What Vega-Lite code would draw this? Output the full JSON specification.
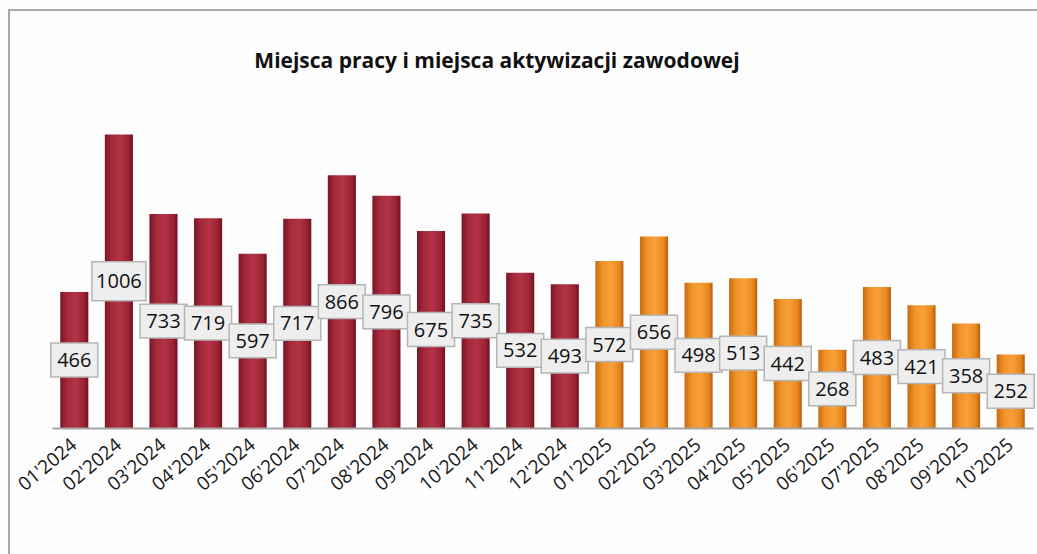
{
  "$schema": "https://vega.github.io/schema/vega-lite/v6.json",
  "autosize": "none",
  "width": 1100,
  "height": 600,
  "padding": {"left": 9, "top": 10, "right": 0, "bottom": 0},
  "background": "#fdfdfd",
  "config": {
    "view": {"stroke": "#a8a8a8", "strokeWidth": 2},
    "font": "Open Sans"
  },
  "title": {
    "text": "Miejsca pracy i miejsca aktywizacji zawodowej",
    "font": "Open Sans",
    "fontSize": 21,
    "fontWeight": "bold",
    "color": "#111111",
    "anchor": "middle",
    "dx": -62,
    "dy": 79,
    "orient": "top",
    "baseline": "alphabetic",
    "offset": 0
  },
  "data": {
    "values": [
      {"m": "01'2024", "y": "2024", "v": 466},
      {"m": "02'2024", "y": "2024", "v": 1006},
      {"m": "03'2024", "y": "2024", "v": 733},
      {"m": "04'2024", "y": "2024", "v": 719},
      {"m": "05'2024", "y": "2024", "v": 597},
      {"m": "06'2024", "y": "2024", "v": 717},
      {"m": "07'2024", "y": "2024", "v": 866},
      {"m": "08'2024", "y": "2024", "v": 796},
      {"m": "09'2024", "y": "2024", "v": 675},
      {"m": "10'2024", "y": "2024", "v": 735},
      {"m": "11'2024", "y": "2024", "v": 532},
      {"m": "12'2024", "y": "2024", "v": 493},
      {"m": "01'2025", "y": "2025", "v": 572},
      {"m": "02'2025", "y": "2025", "v": 656},
      {"m": "03'2025", "y": "2025", "v": 498},
      {"m": "04'2025", "y": "2025", "v": 513},
      {"m": "05'2025", "y": "2025", "v": 442},
      {"m": "06'2025", "y": "2025", "v": 268},
      {"m": "07'2025", "y": "2025", "v": 483},
      {"m": "08'2025", "y": "2025", "v": 421},
      {"m": "09'2025", "y": "2025", "v": 358},
      {"m": "10'2025", "y": "2025", "v": 252}
    ]
  },
  "encoding": {
    "x": {
      "field": "m",
      "type": "nominal",
      "sort": null,
      "scale": {"range": [43, 1024], "paddingInner": 0.37, "paddingOuter": 0.185},
      "axis": {
        "title": null,
        "offset": -182,
        "domainColor": "#a6a6a6",
        "domainWidth": 2,
        "ticks": false,
        "labelAngle": -40,
        "labelAlign": "right",
        "labelBaseline": "middle",
        "labelFont": "Open Sans",
        "labelFontSize": 19,
        "labelColor": "#1a1a1a",
        "labelPadding": 14,
        "labelOverlap": false,
        "zindex": 1
      }
    }
  },
  "layer": [
    {
      "transform": [{"filter": "datum.y == '2024'"}],
      "mark": {
        "type": "bar",
        "color": {
          "gradient": "linear", "x1": 0, "x2": 1, "y1": 0, "y2": 0,
          "stops": [
            {"offset": 0, "color": "#7a1626"},
            {"offset": 0.25, "color": "#a52a3c"},
            {"offset": 0.55, "color": "#b23345"},
            {"offset": 0.85, "color": "#9a2234"},
            {"offset": 1, "color": "#6e1220"}
          ]
        }
      },
      "encoding": {
        "y": {"field": "v", "type": "quantitative", "scale": {"domain": [0, 1100], "range": [418, 97]}, "axis": null}
      }
    },
    {
      "transform": [{"filter": "datum.y == '2025'"}],
      "mark": {
        "type": "bar",
        "color": {
          "gradient": "linear", "x1": 0, "x2": 1, "y1": 0, "y2": 0,
          "stops": [
            {"offset": 0, "color": "#c86a10"},
            {"offset": 0.25, "color": "#f09228"},
            {"offset": 0.55, "color": "#f7a03a"},
            {"offset": 0.85, "color": "#e8871d"},
            {"offset": 1, "color": "#b85e0c"}
          ]
        }
      },
      "encoding": {
        "y": {"field": "v", "type": "quantitative", "scale": {"domain": [0, 1100], "range": [418, 97]}, "axis": null}
      }
    },
    {
      "transform": [{"calculate": "datum.v / 2", "as": "mid"}],
      "mark": {
        "type": "point",
        "shape": "M-1,-0.72L1,-0.72L1,0.72L-1,0.72Z",
        "filled": true,
        "fill": "#eeeeee",
        "stroke": "#b5b5b5",
        "strokeWidth": 1.5,
        "opacity": 1
      },
      "encoding": {
        "y": {"field": "mid", "type": "quantitative", "scale": {"domain": [0, 1100], "range": [418, 97]}, "axis": null},
        "size": {"condition": {"test": "datum.v >= 1000", "value": 2916}, "value": 2209}
      }
    },
    {
      "transform": [{"calculate": "datum.v / 2", "as": "mid"}],
      "mark": {
        "type": "text",
        "font": "Open Sans",
        "fontSize": 20,
        "color": "#111111",
        "baseline": "middle",
        "align": "center",
        "dy": 1
      },
      "encoding": {
        "y": {"field": "mid", "type": "quantitative", "scale": {"domain": [0, 1100], "range": [418, 97]}, "axis": null},
        "text": {"field": "v", "type": "quantitative", "format": "d"}
      }
    }
  ]
}
